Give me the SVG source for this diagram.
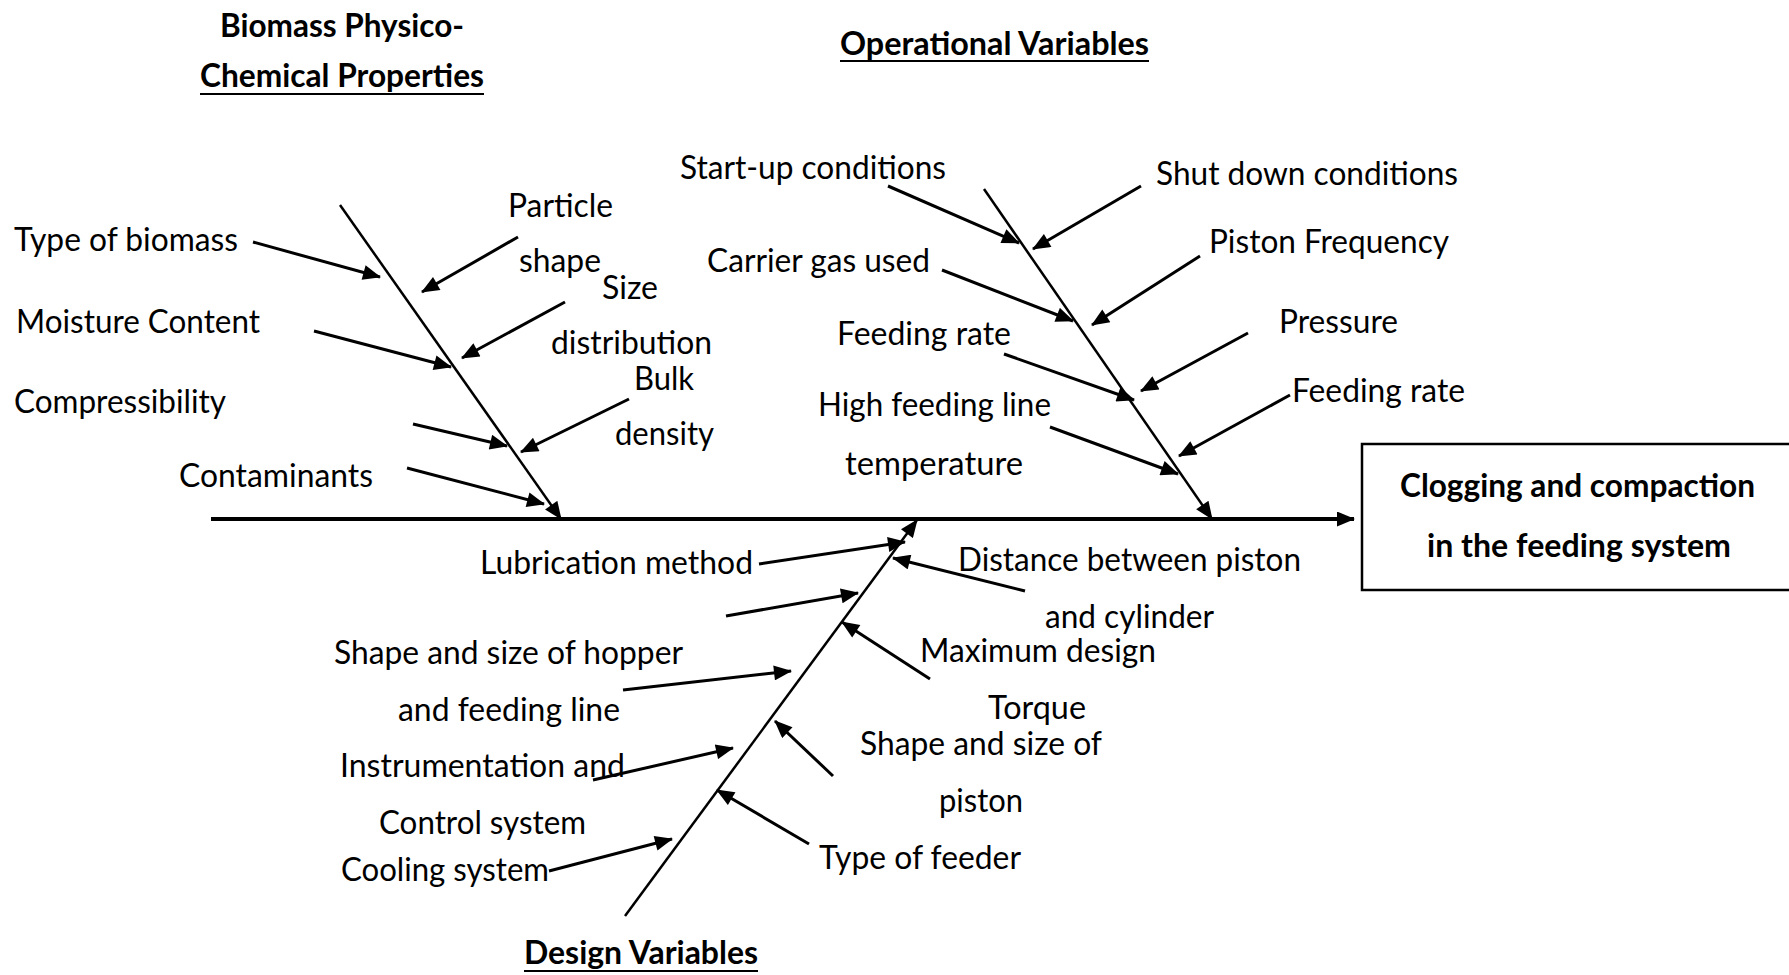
<svg xmlns="http://www.w3.org/2000/svg" width="1789" height="975" viewBox="0 0 1789 975">
<style>
.t{font-family:Lato,"Open Sans",sans-serif;font-size:32px;fill:#000}
.b{font-family:Lato,"Open Sans",sans-serif;font-size:33px;font-weight:bold;fill:#000}
.a{stroke:#000;stroke-width:3;fill:none;marker-end:url(#ah)}
.bone{stroke:#000;stroke-width:2.5;fill:none;marker-end:url(#ah)}
.u{stroke:#000;stroke-width:2}
</style>
<defs>
<marker id="ah" viewBox="0 0 18 15" refX="17" refY="7.5" markerWidth="19" markerHeight="15" orient="auto" markerUnits="userSpaceOnUse">
<path d="M0,0 L18,7.5 L0,15 Z" fill="#000"/>
</marker>
</defs>
<rect width="1789" height="975" fill="#fff"/>
<g id="titles">
<text class="b" x="220" y="37" textLength="244" lengthAdjust="spacingAndGlyphs">Biomass Physico-</text>
<text class="b" x="200" y="87" textLength="284" lengthAdjust="spacingAndGlyphs">Chemical Properties</text>
<line class="u" x1="200" y1="94" x2="484" y2="94"/>
<text class="b" x="840" y="55" textLength="309" lengthAdjust="spacingAndGlyphs">Operational Variables</text>
<line class="u" x1="840" y1="61" x2="1149" y2="61"/>
<text class="b" x="524" y="964" textLength="234" lengthAdjust="spacingAndGlyphs">Design Variables</text>
<line class="u" x1="524" y1="971" x2="758" y2="971"/>
</g>
<g id="effect">
<rect x="1362" y="444" width="440" height="146" fill="#fff" stroke="#000" stroke-width="2.5"/>
<text class="b" x="1400" y="497" textLength="355" lengthAdjust="spacingAndGlyphs">Clogging and compaction</text>
<text class="b" x="1427" y="557" textLength="304" lengthAdjust="spacingAndGlyphs">in the feeding system</text>
</g>
<g id="connectors">
<line x1="211" y1="519" x2="1354" y2="519" stroke="#000" stroke-width="4" marker-end="url(#ah)"/>
<line class="bone" x1="340" y1="205" x2="561" y2="519"/>
<line class="bone" x1="984" y1="189" x2="1212" y2="519"/>
<line class="bone" x1="625" y1="916" x2="917" y2="520"/>
<line class="a" x1="253" y1="242" x2="380" y2="277"/>
<line class="a" x1="314" y1="331" x2="451" y2="367"/>
<line class="a" x1="413" y1="424" x2="507" y2="446"/>
<line class="a" x1="407" y1="468" x2="544" y2="504"/>
<line class="a" x1="518" y1="237" x2="422" y2="292"/>
<line class="a" x1="565" y1="302" x2="462" y2="358"/>
<line class="a" x1="629" y1="399" x2="521" y2="452"/>
<line class="a" x1="888" y1="186" x2="1019" y2="243"/>
<line class="a" x1="942" y1="270" x2="1073" y2="321"/>
<line class="a" x1="1004" y1="354" x2="1134" y2="400"/>
<line class="a" x1="1050" y1="427" x2="1178" y2="474"/>
<line class="a" x1="1141" y1="186" x2="1033" y2="249"/>
<line class="a" x1="1200" y1="256" x2="1092" y2="325"/>
<line class="a" x1="1248" y1="333" x2="1141" y2="391"/>
<line class="a" x1="1290" y1="395" x2="1179" y2="456"/>
<line class="a" x1="759" y1="564" x2="905" y2="542"/>
<line class="a" x1="726" y1="616" x2="858" y2="593"/>
<line class="a" x1="623" y1="690" x2="791" y2="671"/>
<line class="a" x1="593" y1="780" x2="733" y2="748"/>
<line class="a" x1="549" y1="871" x2="672" y2="839"/>
<line class="a" x1="1025" y1="591" x2="893" y2="558"/>
<line class="a" x1="930" y1="679" x2="842" y2="622"/>
<line class="a" x1="833" y1="776" x2="775" y2="721"/>
<line class="a" x1="809" y1="844" x2="717" y2="790"/>
</g>
<g id="biomass-causes">
<text class="t" x="14" y="251" textLength="224" lengthAdjust="spacingAndGlyphs">Type of biomass</text>
<text class="t" x="16" y="333" textLength="244" lengthAdjust="spacingAndGlyphs">Moisture Content</text>
<text class="t" x="14" y="413" textLength="212" lengthAdjust="spacingAndGlyphs">Compressibility</text>
<text class="t" x="179" y="487" textLength="194" lengthAdjust="spacingAndGlyphs">Contaminants</text>
<text class="t" x="508" y="217" textLength="105" lengthAdjust="spacingAndGlyphs">Particle</text>
<text class="t" x="519" y="272" textLength="82" lengthAdjust="spacingAndGlyphs">shape</text>
<text class="t" x="602" y="299" textLength="56" lengthAdjust="spacingAndGlyphs">Size</text>
<text class="t" x="551" y="354" textLength="161" lengthAdjust="spacingAndGlyphs">distribution</text>
<text class="t" x="634" y="390" textLength="60" lengthAdjust="spacingAndGlyphs">Bulk</text>
<text class="t" x="615" y="445" textLength="99" lengthAdjust="spacingAndGlyphs">density</text>
</g>
<g id="operational-causes">
<text class="t" x="680" y="179" textLength="266" lengthAdjust="spacingAndGlyphs">Start-up conditions</text>
<text class="t" x="1156" y="185" textLength="302" lengthAdjust="spacingAndGlyphs">Shut down conditions</text>
<text class="t" x="1209" y="253" textLength="240" lengthAdjust="spacingAndGlyphs">Piston Frequency</text>
<text class="t" x="707" y="272" textLength="223" lengthAdjust="spacingAndGlyphs">Carrier gas used</text>
<text class="t" x="837" y="345" textLength="174" lengthAdjust="spacingAndGlyphs">Feeding rate</text>
<text class="t" x="1279" y="333" textLength="119" lengthAdjust="spacingAndGlyphs">Pressure</text>
<text class="t" x="1292" y="402" textLength="173" lengthAdjust="spacingAndGlyphs">Feeding rate</text>
<text class="t" x="818" y="416" textLength="233" lengthAdjust="spacingAndGlyphs">High feeding line</text>
<text class="t" x="845" y="475" textLength="178" lengthAdjust="spacingAndGlyphs">temperature</text>
</g>
<g id="design-causes">
<text class="t" x="480" y="574" textLength="273" lengthAdjust="spacingAndGlyphs">Lubrication method</text>
<text class="t" x="958" y="571" textLength="343" lengthAdjust="spacingAndGlyphs">Distance between piston</text>
<text class="t" x="1045" y="628" textLength="169" lengthAdjust="spacingAndGlyphs">and cylinder</text>
<text class="t" x="334" y="664" textLength="349" lengthAdjust="spacingAndGlyphs">Shape and size of hopper</text>
<text class="t" x="920" y="662" textLength="236" lengthAdjust="spacingAndGlyphs">Maximum design</text>
<text class="t" x="398" y="721" textLength="222" lengthAdjust="spacingAndGlyphs">and feeding line</text>
<text class="t" x="988" y="719" textLength="98" lengthAdjust="spacingAndGlyphs">Torque</text>
<text class="t" x="860" y="755" textLength="242" lengthAdjust="spacingAndGlyphs">Shape and size of</text>
<text class="t" x="340" y="777" textLength="285" lengthAdjust="spacingAndGlyphs">Instrumentation and</text>
<text class="t" x="939" y="812" textLength="84" lengthAdjust="spacingAndGlyphs">piston</text>
<text class="t" x="379" y="834" textLength="207" lengthAdjust="spacingAndGlyphs">Control system</text>
<text class="t" x="341" y="881" textLength="208" lengthAdjust="spacingAndGlyphs">Cooling system</text>
<text class="t" x="819" y="869" textLength="202" lengthAdjust="spacingAndGlyphs">Type of feeder</text>
</g>
</svg>
